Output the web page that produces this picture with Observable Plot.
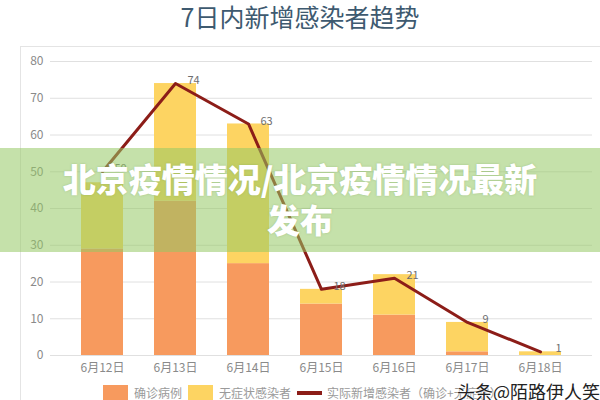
<!DOCTYPE html>
<html>
<head>
<meta charset="utf-8">
<script src="https://cdn.jsdelivr.net/npm/d3@7"></script>
<script src="https://cdn.jsdelivr.net/npm/@observablehq/plot@0.6"></script>
<style>
  html, body { margin:0; padding:0; background:#fff; }
  body { width:600px; height:400px; overflow:hidden; position:relative; font-family:"Noto Sans CJK SC","Noto Sans",sans-serif; }
  #title { position:absolute; top:1px; left:0; width:600px; text-align:center; font-size:25px; line-height:30px; color:#3e5a70; }
  #frame { position:absolute; left:20px; top:46px; width:600px; height:400px; border:1px solid #e4e4e4; box-sizing:border-box; }
  #chart { position:absolute; left:0; top:45px; }
  #legend { position:absolute; left:103px; top:384px; display:flex; align-items:center; font-size:12px; color:#9a9a9a; white-space:nowrap; }
  .sw { display:inline-block; width:25px; height:15px; margin-right:6px; }
  .ln { display:inline-block; width:25px; height:4px; margin-right:5px; }
  .lab { margin-right:6px; }
  #banner { position:absolute; left:0; top:148px; width:600px; height:104px; background:rgba(150,200,100,0.55); }
  #btext { position:absolute; left:0; top:158px; width:600px; text-align:center; color:#fff; font-weight:900; font-size:33px; line-height:41px; text-shadow:0 0 2px rgba(120,160,90,0.5); }
  #wm { position:absolute; left:457px; top:378px; font-size:18px; color:#222; white-space:nowrap; text-shadow:0 0 2px #fff, 0 0 2px #fff; }
</style>
</head>
<body>
<div id="title">7日内新增感染者趋势</div>
<div id="frame"></div>
<div id="chart"></div>
<div id="legend">
  <span class="sw" style="background:#f79a5e"></span><span class="lab">确诊病例</span>
  <span class="sw" style="background:#fdd462"></span><span class="lab">无症状感染者</span>
  <span class="ln" style="background:#8c1d18"></span><span class="lab">实际新增感染者（确诊+无症状）</span>
</div>
<div id="banner"></div>
<div id="btext">北京疫情情况/北京疫情情况最新<br>发布</div>
<div id="wm">头条@陌路伊人笑</div>
<script>
const dates = ["6月12日","6月13日","6月14日","6月15日","6月16日","6月17日","6月18日"];
const confirmed = [29, 42, 25, 14, 11, 1, 0];
const asymptomatic = [18, 32, 38, 4, 11, 8, 1];
const actual = [50, 74, 63, 18, 21, 9, 1];
const yTicks = [0, 10, 20, 30, 40, 50, 60, 70, 80];
const seriesNames = ["确诊病例", "无症状感染者"];

const rows = dates.flatMap((d, i) => [
  {date: d, type: seriesNames[0], value: confirmed[i]},
  {date: d, type: seriesNames[1], value: asymptomatic[i]}
]);
const lineRows = dates.map((d, i) => ({date: d, value: actual[i]}));

const chart = Plot.plot({
  width: 600,
  height: 340,
  marginTop: 16,
  marginBottom: 30,
  marginLeft: 50,
  marginRight: 8,
  style: {fontFamily: "'Noto Sans CJK SC', sans-serif", fontSize: "12px", color: "#8a8a8a", background: "transparent"},
  x: {domain: dates, padding: 0.42, label: null, tickSize: 0, tickPadding: 8},
  y: {domain: [0, 80], ticks: yTicks, label: null, tickSize: 0, tickPadding: 7},
  color: {domain: seriesNames, range: ["#f79a5e", "#fdd462"]},
  marks: [
    Plot.ruleY(yTicks, {stroke: "#e0e0e0"}),
    Plot.barY(rows, {x: "date", y: "value", fill: "type"}),
    Plot.line(lineRows, {x: "date", y: "value", stroke: "#8c1d18", strokeWidth: 3}),
    Plot.text(lineRows, {x: "date", y: "value", text: "value", dx: 18, dy: -3, fill: "#6e6e6e", fontSize: 11})
  ]
});
document.getElementById("chart").appendChild(chart);
</script>
</body>
</html>
